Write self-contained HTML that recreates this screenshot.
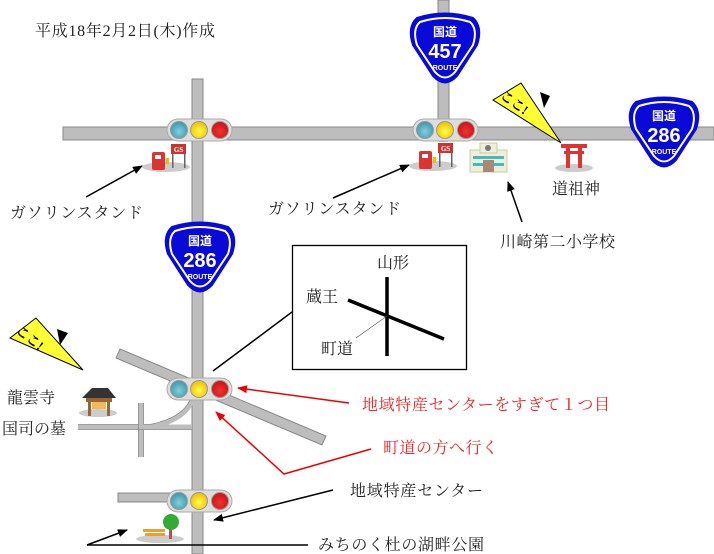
<!DOCTYPE html>
<html><head><meta charset="utf-8"><style>
html,body{margin:0;padding:0;background:#fff;}
svg{display:block;}
text{font-family:"Liberation Serif","Noto Serif CJK SC","Noto Sans CJK JP",serif;}
.s{font-family:"Liberation Sans","Noto Sans CJK JP",sans-serif;font-weight:bold;fill:#fff;text-anchor:middle;}
</style></head><body>
<svg width="714" height="554" viewBox="0 0 714 554" xmlns="http://www.w3.org/2000/svg">
<defs>
<marker id="ab" markerWidth="10" markerHeight="8" refX="9" refY="4" orient="auto" markerUnits="userSpaceOnUse"><path d="M0,0 L10,4 L0,8 Z" fill="#000"/></marker>
<marker id="ar" markerWidth="10" markerHeight="8" refX="9" refY="4" orient="auto" markerUnits="userSpaceOnUse"><path d="M0,0 L10,4 L0,8 Z" fill="#e00"/></marker>
<radialGradient id="gb" cx="0.5" cy="0.6" r="0.6"><stop offset="0" stop-color="#8cd"/><stop offset="1" stop-color="#39a"/></radialGradient>
<radialGradient id="gy" cx="0.5" cy="0.6" r="0.6"><stop offset="0" stop-color="#ff4"/><stop offset="1" stop-color="#eb0"/></radialGradient>
<radialGradient id="gr" cx="0.5" cy="0.6" r="0.6"><stop offset="0" stop-color="#e33"/><stop offset="1" stop-color="#c11"/></radialGradient>
</defs>
<text x="35" y="36" font-size="16" fill="#222" textLength="180">平成18年2月2日(木)作成</text>

<!-- roads -->
<g fill="#bdbdbd" stroke="#888" stroke-width="1">
<rect x="63" y="127" width="651" height="13"/>
<rect x="192" y="79" width="11" height="475"/>
<rect x="438" y="0" width="11" height="140"/>
<polygon points="120,349 326,436 322,445 116,358"/>
<rect x="118" y="493" width="75" height="9"/>
</g>
<rect x="193" y="126" width="9" height="16" fill="#bdbdbd"/>
<rect x="439" y="126" width="9" height="16" fill="#bdbdbd"/>
<g fill="none" stroke="#bdbdbd" stroke-width="5">
<path d="M78,427 L192,427"/>
<path d="M141,403 L141,457"/>
<path d="M150,427 Q185,420 192,400"/>
</g>
<g fill="none" stroke="#888" stroke-width="0.8">
<path d="M78,424.5 L139,424.5 M143,424.5 L150,424.5 Q182,418 190,400 M78,429.5 L192,429.5"/>
<path d="M138.5,403 L138.5,457 M143.5,403 L143.5,424 M143.5,430 L143.5,457"/>
</g>

<!-- traffic lights -->
<g>
<rect x="167" y="119" width="65" height="22" rx="11" fill="#ddd" stroke="#aaa"/>
<circle cx="179" cy="130" r="8.5" fill="url(#gb)" stroke="#999"/>
<circle cx="199" cy="130" r="8.5" fill="url(#gy)" stroke="#999"/>
<circle cx="220" cy="130" r="8.5" fill="url(#gr)" stroke="#999"/>
</g>
<g transform="translate(246,0)">
<rect x="167" y="119" width="65" height="22" rx="11" fill="#ddd" stroke="#aaa"/>
<circle cx="179" cy="130" r="8.5" fill="url(#gb)" stroke="#999"/>
<circle cx="199" cy="130" r="8.5" fill="url(#gy)" stroke="#999"/>
<circle cx="220" cy="130" r="8.5" fill="url(#gr)" stroke="#999"/>
</g>
<g transform="translate(0,259)">
<rect x="167" y="119" width="65" height="22" rx="11" fill="#ddd" stroke="#aaa"/>
<circle cx="179" cy="130" r="8.5" fill="url(#gb)" stroke="#999"/>
<circle cx="199" cy="130" r="8.5" fill="url(#gy)" stroke="#999"/>
<circle cx="220" cy="130" r="8.5" fill="url(#gr)" stroke="#999"/>
</g>
<g transform="translate(0,371)">
<rect x="167" y="119" width="65" height="22" rx="11" fill="#ddd" stroke="#aaa"/>
<circle cx="179" cy="130" r="8.5" fill="url(#gb)" stroke="#999"/>
<circle cx="199" cy="130" r="8.5" fill="url(#gy)" stroke="#999"/>
<circle cx="220" cy="130" r="8.5" fill="url(#gr)" stroke="#999"/>
</g>

<!-- shields -->
<g transform="translate(445,49)">
<path d="M-28,-31 Q0,-40 28,-31 Q38,-22 32,-4 L12,27 Q0,40 -12,27 L-32,-4 Q-38,-22 -28,-31 Z" fill="#0a0ad8" stroke="#0a0ad8" stroke-width="2"/>
<path d="M-25,-27 Q0,-35 25,-27 Q33,-20 28,-4 L10,23 Q0,34 -10,23 L-28,-4 Q-33,-20 -25,-27 Z" fill="none" stroke="#fff" stroke-width="2"/>
<text class="s" x="0" y="-13" font-size="12">国道</text>
<text class="s" x="0" y="9" font-size="20">457</text>
<text class="s" x="0" y="21" font-size="7">ROUTE</text>
</g>
<g transform="translate(664,133)">
<path d="M-28,-31 Q0,-40 28,-31 Q38,-22 32,-4 L12,27 Q0,40 -12,27 L-32,-4 Q-38,-22 -28,-31 Z" fill="#0a0ad8" stroke="#0a0ad8" stroke-width="2"/>
<path d="M-25,-27 Q0,-35 25,-27 Q33,-20 28,-4 L10,23 Q0,34 -10,23 L-28,-4 Q-33,-20 -25,-27 Z" fill="none" stroke="#fff" stroke-width="2"/>
<text class="s" x="0" y="-13" font-size="12">国道</text>
<text class="s" x="0" y="9" font-size="20">286</text>
<text class="s" x="0" y="21" font-size="7">ROUTE</text>
</g>
<g transform="translate(200,258)">
<path d="M-28,-31 Q0,-40 28,-31 Q38,-22 32,-4 L12,27 Q0,40 -12,27 L-32,-4 Q-38,-22 -28,-31 Z" fill="#0a0ad8" stroke="#0a0ad8" stroke-width="2"/>
<path d="M-25,-27 Q0,-35 25,-27 Q33,-20 28,-4 L10,23 Q0,34 -10,23 L-28,-4 Q-33,-20 -25,-27 Z" fill="none" stroke="#fff" stroke-width="2"/>
<text class="s" x="0" y="-13" font-size="12">国道</text>
<text class="s" x="0" y="9" font-size="20">286</text>
<text class="s" x="0" y="21" font-size="7">ROUTE</text>
</g>

<!-- gas stations -->
<g>
<ellipse cx="166" cy="167" rx="24" ry="5" fill="#ccc"/>
<rect x="152" y="152" width="13" height="18" fill="#d33" rx="2"/>
<rect x="155" y="155" width="6" height="4" fill="#fff"/>
<rect x="166" y="158" width="3" height="6" fill="#eb0"/>
<rect x="171" y="144" width="15" height="10" fill="#c33"/>
<text x="178.5" y="152" font-size="7" fill="#fff" text-anchor="middle" font-family="Liberation Sans" font-weight="bold">GS</text>
<rect x="172" y="154" width="1.5" height="14" fill="#666"/><rect x="184" y="154" width="1.5" height="14" fill="#666"/>
</g>
<g transform="translate(267,-1)">
<ellipse cx="166" cy="167" rx="24" ry="5" fill="#ccc"/>
<rect x="152" y="152" width="13" height="18" fill="#d33" rx="2"/>
<rect x="155" y="155" width="6" height="4" fill="#fff"/>
<rect x="166" y="158" width="3" height="6" fill="#eb0"/>
<rect x="171" y="144" width="15" height="10" fill="#c33"/>
<text x="178.5" y="152" font-size="7" fill="#fff" text-anchor="middle" font-family="Liberation Sans" font-weight="bold">GS</text>
<rect x="172" y="154" width="1.5" height="14" fill="#666"/><rect x="184" y="154" width="1.5" height="14" fill="#666"/>
</g>
<!-- school -->
<g>
<rect x="470" y="150" width="37" height="22" fill="#eed" stroke="#cc9"/>
<rect x="480" y="143" width="17" height="10" fill="#eed" stroke="#cc9"/>
<circle cx="488" cy="148" r="3" fill="#777"/>
<rect x="473" y="156" width="31" height="3" fill="#4bb"/>
<rect x="473" y="163" width="31" height="3" fill="#4bb"/>
<rect x="483" y="160" width="11" height="12" fill="#a87"/>
</g>
<!-- torii -->
<g>
<ellipse cx="574" cy="168" rx="19" ry="4" fill="#ccc"/>
<rect x="561" y="144" width="26" height="4" fill="#d33"/>
<rect x="564" y="151" width="20" height="3" fill="#d33"/>
<rect x="566" y="146" width="4" height="22" fill="#d33"/>
<rect x="578" y="146" width="4" height="22" fill="#d33"/>
</g>
<!-- temple -->
<g>
<ellipse cx="98" cy="413" rx="19" ry="4" fill="#ccc"/>
<polygon points="82,398 92,388 108,388 116,398" fill="#333"/>
<rect x="86" y="398" width="26" height="4" fill="#963"/>
<rect x="88" y="402" width="3" height="14" fill="#963"/>
<rect x="107" y="402" width="3" height="14" fill="#963"/>
<rect x="92" y="402" width="14" height="7" fill="#eb5"/>
</g>
<!-- park -->
<g>
<ellipse cx="160" cy="539" rx="24" ry="4" fill="#ccc"/>
<rect x="143" y="529" width="22" height="3" fill="#e9a030"/>
<rect x="145" y="533" width="20" height="3" fill="#e9a030"/>
<rect x="169" y="526" width="3" height="13" fill="#a55"/>
<circle cx="171" cy="522" r="8" fill="#3a3"/>
</g>

<!-- koko signs -->
<g>
<polygon points="493,100 521,83 561,143" fill="#ff3" stroke="#000" stroke-width="1"/>
<polygon points="540,92 550,96 544,108" fill="#000"/>
<text x="500" y="104" font-size="13" font-weight="bold" fill="#000" transform="rotate(35 510 100)" font-family="Liberation Sans, Noto Sans CJK JP, sans-serif">ここ!</text>
</g>
<g transform="translate(-478,227)">
<polygon points="488,111 514,91 561,143" fill="#ff3" stroke="#000" stroke-width="1"/>
<polygon points="535,102 546,106 538,118" fill="#000"/>
<text x="494" y="113" font-size="13" font-weight="bold" fill="#000" transform="rotate(38 505 108)" font-family="Liberation Sans, Noto Sans CJK JP, sans-serif">ここ!</text>
</g>

<!-- labels -->
<g font-size="16" fill="#222">
<text x="10" y="218" textLength="133">ガソリンスタンド</text>
<text x="268" y="214" textLength="133">ガソリンスタンド</text>
<text x="552" y="194">道祖神</text>
<text x="500" y="247" textLength="115">川崎第二小学校</text>
<text x="7" y="403">龍雲寺</text>
<text x="2" y="434">国司の墓</text>
<text x="350" y="496" textLength="133">地域特産センター</text>
<text x="318" y="550" textLength="166">みちのく杜の湖畔公園</text>
</g>
<g font-size="16" fill="#e22">
<text x="362" y="410" textLength="248">地域特産センターをすぎて１つ目</text>
<text x="383" y="453" textLength="115">町道の方へ行く</text>
</g>

<!-- inset box -->
<rect x="292.5" y="245.5" width="174" height="124" fill="#fff" stroke="#000" stroke-width="1.3"/>
<g font-size="16" fill="#222">
<text x="377" y="268">山形</text>
<text x="306" y="302">蔵王</text>
<text x="321" y="354">町道</text>
</g>
<line x1="387" y1="277" x2="387" y2="356" stroke="#000" stroke-width="3.5"/>
<line x1="348" y1="300" x2="444" y2="339" stroke="#000" stroke-width="3.5"/>
<line x1="356" y1="338" x2="387" y2="316" stroke="#555" stroke-width="0.6"/>

<!-- connectors -->
<g stroke="#000" stroke-width="1.5" fill="none">
<line x1="86" y1="197" x2="142" y2="166" marker-end="url(#ab)"/>
<line x1="333" y1="198" x2="409" y2="165" marker-end="url(#ab)"/>
<line x1="522" y1="222" x2="508" y2="182" marker-end="url(#ab)"/>
<line x1="292" y1="312" x2="213" y2="371"/>
<line x1="333" y1="490" x2="214" y2="520" marker-end="url(#ab)"/>
<line x1="87" y1="545" x2="308" y2="545"/>
<line x1="87" y1="545" x2="127" y2="530" marker-end="url(#ab)"/>
</g>
<g stroke="#e00" stroke-width="1.5" fill="none">
<line x1="349" y1="403" x2="238" y2="388" marker-end="url(#ar)"/>
<polyline points="371,449 284,474 216,412" marker-end="url(#ar)"/>
</g>
</svg>
</body></html>
